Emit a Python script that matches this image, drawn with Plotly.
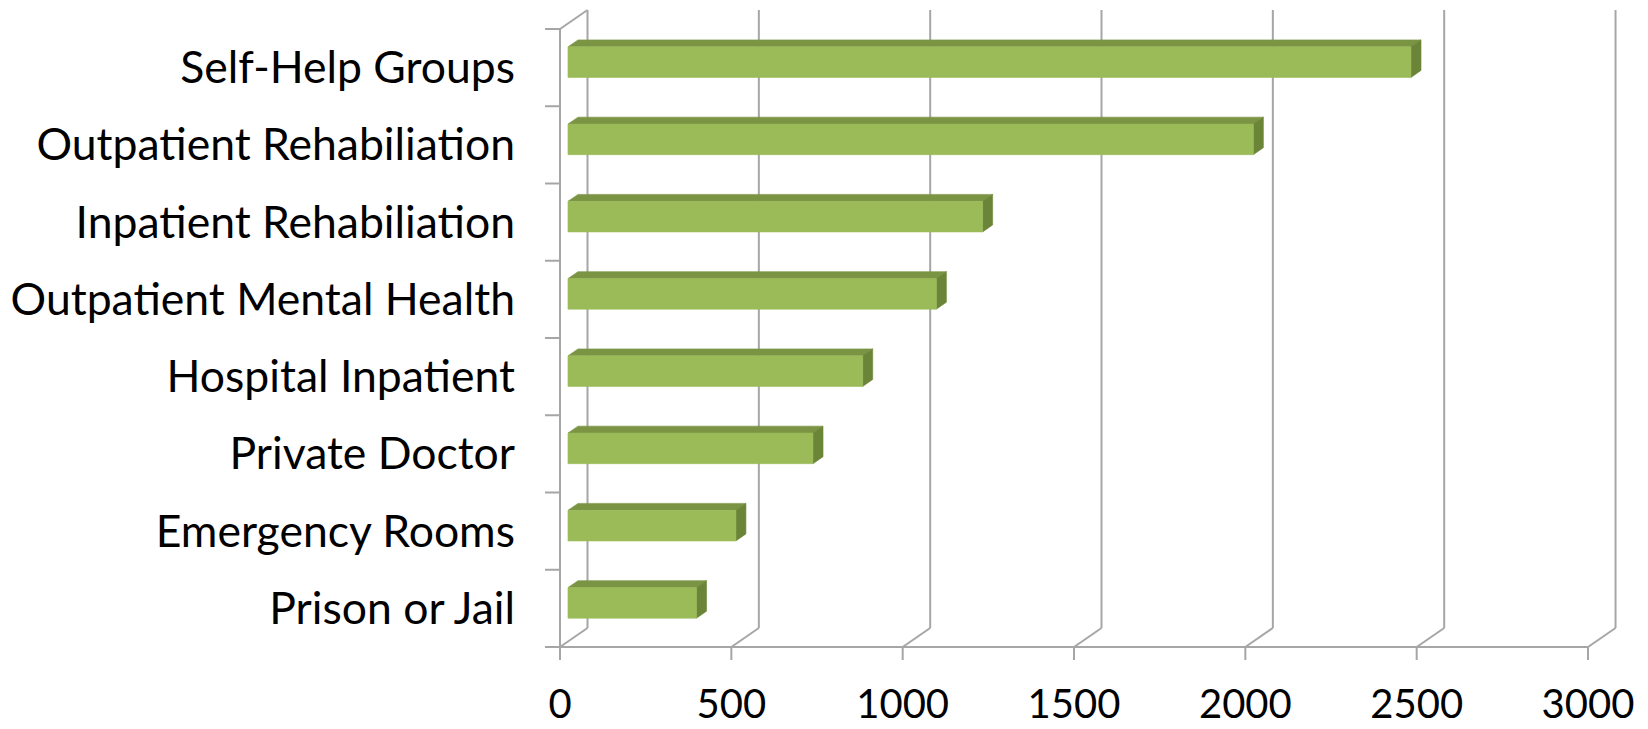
import plotly.graph_objects as go

# Treatment settings, bottom to top as drawn on the category axis
categories = [
    "Prison or Jail",
    "Emergency Rooms",
    "Private Doctor",
    "Hospital Inpatient",
    "Outpatient Mental Health",
    "Inpatient Rehabiliation",
    "Outpatient Rehabiliation",
    "Self-Help Groups",
]
values = [375, 490, 715, 860, 1075, 1210, 2000, 2460]
x_ticks = [0, 500, 1000, 1500, 2000, 2500, 3000]

# Oblique 3-D look: depth expressed in axis units
W, H = 1648, 729
ML, MR, MT, MB = 540, 23, 5, 61
X_RANGE = [-58.37, 3107.9]
Y_RANGE = [-0.27184, 8.3107]
px_x = (W - ML - MR) / (X_RANGE[1] - X_RANGE[0])
px_y = (H - MT - MB) / (Y_RANGE[1] - Y_RANGE[0])
DX = 27.5 / px_x          # full wall depth, horizontal
DY = 19.0 / px_y          # full wall depth, vertical
T1, T2 = 0.29, 0.655      # bar front / back depth fractions
HALF = 0.198              # half bar thickness in category units
n = len(categories)

GRID = "#A6A6A6"
FRONT = "#9BBB59"
TOP = "#7A9444"
SIDE = "#6B8538"

fig = go.Figure()


def seg_trace(segs, width=2):
    xs, ys = [], []
    for (x0, y0), (x1, y1) in segs:
        xs += [x0, x1, None]
        ys += [y0, y1, None]
    fig.add_trace(go.Scatter(x=xs, y=ys, mode="lines",
                             line=dict(color=GRID, width=width),
                             hoverinfo="skip", showlegend=False))


# back-wall gridlines and floor diagonals
segs = []
for t in x_ticks:
    segs.append(((t + DX, DY), (t + DX, n + DY)))
    segs.append(((t, 0), (t + DX, DY)))
# front value line, category axis and its top edge
segs.append(((0, 0), (x_ticks[-1], 0)))
segs.append(((0, 0), (0, n)))
segs.append(((0, n), (DX, n + DY)))
# tick marks
for t in x_ticks:
    segs.append(((t, 0), (t, -13 / px_y)))
for k in range(n + 1):
    segs.append(((-15 / px_x, k), (0, k)))
seg_trace(segs)


def poly(pts, color):
    xs = [p[0] for p in pts] + [pts[0][0]]
    ys = [p[1] for p in pts] + [pts[0][1]]
    fig.add_trace(go.Scatter(x=xs, y=ys, mode="lines", fill="toself",
                             fillcolor=color, line=dict(color=color, width=0.6),
                             hoverinfo="skip", showlegend=False))


def at(x, y, t):
    return (x + t * DX, y + t * DY)


for i, v in enumerate(values):
    c = i + 0.5
    lo, hi = c - HALF, c + HALF
    # top face
    poly([at(0, hi, T1), at(v, hi, T1), at(v, hi, T2), at(0, hi, T2)], TOP)
    # end face
    poly([at(v, lo, T1), at(v, hi, T1), at(v, hi, T2), at(v, lo, T2)], SIDE)
    # front face
    poly([at(0, lo, T1), at(v, lo, T1), at(v, hi, T1), at(0, hi, T1)], FRONT)

CAT_FONT = dict(family="Lato, 'Open Sans', sans-serif", size=44.5, color="#000000")
NUM_FONT = dict(family="Lato, 'Open Sans', sans-serif", size=40, color="#000000")

fig.update_layout(
    template="none",
    width=W, height=H,
    margin=dict(l=ML, r=MR, t=MT, b=MB, pad=0, autoexpand=False),
    paper_bgcolor="white", plot_bgcolor="white",
    showlegend=False,
    xaxis=dict(range=X_RANGE, tickmode="array", tickvals=x_ticks,
               ticktext=[str(t) for t in x_ticks], ticks="",
               showgrid=False, zeroline=False, showline=False,
               automargin=False,
               tickfont=NUM_FONT, ticklabelstandoff=9, fixedrange=True),
    yaxis=dict(range=Y_RANGE, tickmode="array",
               tickvals=[i + 0.5 for i in range(n)], ticktext=categories,
               ticks="", showgrid=False, zeroline=False, showline=False,
               automargin=False,
               tickfont=CAT_FONT, ticklabelstandoff=24, fixedrange=True),
)

fig.write_html("out.html")
